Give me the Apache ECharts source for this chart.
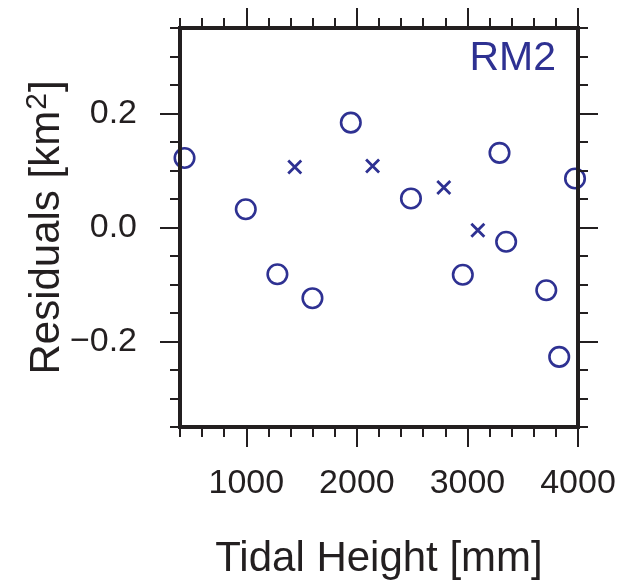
<!DOCTYPE html>
<html>
<head>
<meta charset="utf-8">
<script src="https://cdn.jsdelivr.net/npm/echarts@6/dist/echarts.min.js"></script>
<style>html,body{margin:0;padding:0;background:#fff}#c{width:620px;height:582px}</style>
</head>
<body>
<div id="c"></div>
<script>
const circleX = [441, 995, 1281, 1598, 1945, 2489, 2958, 3290, 3350, 3713, 3830, 3973];
const circleY = [0.122, 0.032, -0.082, -0.124, 0.184, 0.051, -0.083, 0.131, -0.025, -0.110, -0.227, 0.086];
const crossX = [1438, 2142, 2786, 3094];
const crossY = [0.106, 0.108, 0.070, -0.005];
const xMajorTicks = [1000, 2000, 3000, 4000];
const yMajorTicks = [-0.2, 0.0, 0.2];
const panelLabel = 'RM2';

const FONT = '"Liberation Sans", Arial, Helvetica, sans-serif';
const INK = '#231f20';
const BLUE = '#2e3192';
const XMIN = 400, XMAX = 4000, YMIN = -0.35, YMAX = 0.35;

function fmtY(v) {
  const s = Math.abs(v).toFixed(1);
  return v < -1e-9 ? '\u2212' + s : s;
}
function fmtX(v) { return String(Math.round(v)); }

function xMajor(pos, showLabel, withName) {
  const a = {
    type: 'value', position: pos, min: XMIN, max: XMAX, z: 10,
    axisLine: { show: true, onZero: false, lineStyle: { color: INK, width: 4, cap: 'square' } },
    axisTick: { show: true, inside: false, length: 20, customValues: xMajorTicks, lineStyle: { color: INK, width: 2 } },
    axisLabel: { show: showLabel, customValues: xMajorTicks, margin: 40, fontSize: 34, fontFamily: FONT, color: INK, formatter: fmtX },
    splitLine: { show: false }
  };
  if (withName) {
    a.name = 'Tidal Height [mm]';
    a.nameLocation = 'middle';
    a.nameGap = 111;
    a.nameMoveOverlap = false;
    a.nameTextStyle = { fontSize: 42, fontFamily: FONT, color: INK };
  }
  return a;
}
function xMinor(pos) {
  return {
    type: 'value', position: pos, min: XMIN, max: XMAX, interval: 200, z: 9,
    axisLine: { show: false, onZero: false },
    axisTick: { show: true, inside: false, length: 10, lineStyle: { color: INK, width: 2 } },
    axisLabel: { show: false }, splitLine: { show: false }
  };
}
function yMajor(pos, showLabel, withName) {
  const a = {
    type: 'value', position: pos, min: YMIN, max: YMAX, z: 10,
    axisLine: { show: true, onZero: false, lineStyle: { color: INK, width: 4, cap: 'square' } },
    axisTick: { show: true, inside: false, length: 20, customValues: yMajorTicks, lineStyle: { color: INK, width: 2 } },
    axisLabel: { show: showLabel, customValues: yMajorTicks, margin: 43, fontSize: 34, fontFamily: FONT, color: INK, formatter: fmtY },
    splitLine: { show: false }
  };
  if (withName) {
    a.name = '{n|Residuals [km}{s|2}{n|]}';
    a.nameLocation = 'middle';
    a.nameGap = 109;
    a.nameMoveOverlap = false;
    a.nameRotate = 90;
    a.nameTextStyle = {
      fontFamily: FONT, color: INK, fontSize: 42,
      rich: {
        n: { fontSize: 42, fontFamily: FONT, color: INK },
        s: { fontSize: 30, fontFamily: FONT, color: INK, verticalAlign: 'top', padding: [0, 1, 18, 1] }
      }
    };
  }
  return a;
}
function yMinor(pos) {
  return {
    type: 'value', position: pos, min: YMIN, max: YMAX, interval: 0.05, z: 9,
    axisLine: { show: false, onZero: false },
    axisTick: { show: true, inside: false, length: 10, lineStyle: { color: INK, width: 2 } },
    axisLabel: { show: false }, splitLine: { show: false }
  };
}

const chart = echarts.init(document.getElementById('c'), null, { renderer: 'canvas' });
chart.setOption({
  animation: false,
  backgroundColor: '#ffffff',
  grid: { left: 180, right: 42, top: 28, bottom: 155, containLabel: false, outerBoundsMode: 'none' },
  xAxis: [xMajor('bottom', true, true), xMinor('bottom'), xMajor('top', false, false), xMinor('top')],
  yAxis: [yMajor('left', true, true), yMinor('left'), yMajor('right', false, false), yMinor('right')],
  graphic: [{
    type: 'text', right: 64, top: 38, z: 20,
    style: { text: panelLabel, fontSize: 41, fontFamily: FONT, fill: BLUE }
  }],
  series: [
    {
      type: 'scatter', xAxisIndex: 0, yAxisIndex: 0, clip: true, z: 3,
      symbol: 'circle', symbolSize: 19.5,
      itemStyle: { color: 'rgba(0,0,0,0)', borderColor: BLUE, borderWidth: 2.6, opacity: 1 },
      data: circleX.map((x, i) => [x, circleY[i]])
    },
    {
      type: 'scatter', xAxisIndex: 0, yAxisIndex: 0, clip: true, z: 3,
      symbol: 'path://M0,0L10,10M10,0L0,10', symbolSize: 13, symbolKeepAspect: true,
      itemStyle: { color: 'rgba(0,0,0,0)', borderColor: BLUE, borderWidth: 2.8, opacity: 1 },
      data: crossX.map((x, i) => [x, crossY[i]])
    }
  ]
});
</script>
</body>
</html>
